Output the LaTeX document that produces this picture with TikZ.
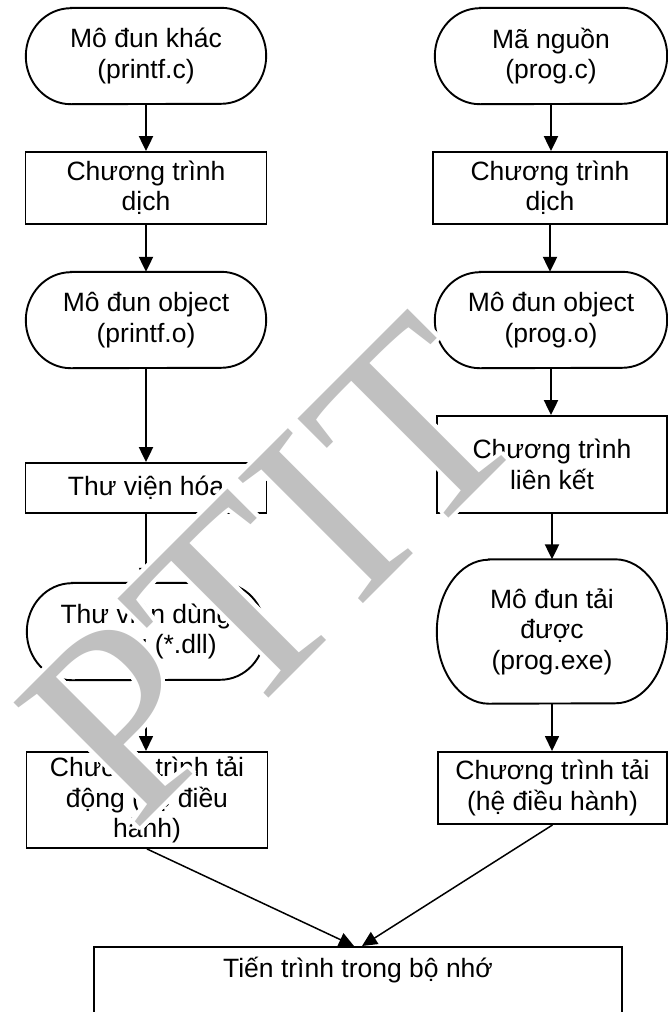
\documentclass[tikz,border=0pt]{standalone}
\usepackage{fontspec}
\setmainfont{Liberation Sans}
\newfontfamily\wmfont{Liberation Serif}
\usetikzlibrary{arrows.meta}
\definecolor{wmgray}{RGB}{192,192,192}
\newcommand\termshape[3]{%
  \draw[line width=1.9pt] ([xshift=#3]#1.north west) -- ([xshift=-#3]#1.north east)
    arc[start angle=90,end angle=-90,x radius=#3,y radius={#2/2}]
    -- ([xshift=#3]#1.south west)
    arc[start angle=270,end angle=90,x radius=#3,y radius={#2/2}] -- cycle;}
\begin{document}
\begin{tikzpicture}[x=1pt,y=1pt,
  txt/.style={font=\fontsize{26.5}{30.5}\selectfont, align=center, inner sep=0pt},
  boxnode/.style={txt, draw, line width=1.9pt, rectangle},
  arr/.style={-{Triangle[length=15pt,width=14pt]}, line width=2.2pt},
  thinarr/.style={-{Triangle[length=15pt,width=14pt]}, line width=1.5pt},
  wmtext/.style={transform shape, anchor=center, inner sep=0pt,
    font=\wmfont\fontsize{270}{270}\selectfont}]
\useasboundingbox (0,0) rectangle (668,-1012);
\clip (0,0) rectangle (668,-1012);
% left column
\node[txt, minimum width=240pt, minimum height=96pt] (l1) at (146,-56) {Mô đun khác\\(printf.c)};
\termshape{l1}{96pt}{45pt}
\node[boxnode, minimum width=241pt, minimum height=72pt] (l2) at (146,-188) {Chương trình\\dịch};
\node[txt, minimum width=240pt, minimum height=96pt] (l3) at (146,-320) {Mô đun object\\(printf.o)};
\termshape{l3}{96pt}{45pt}
\node[boxnode, minimum width=241pt, minimum height=50pt] (l4) at (146,-488) {Thư viện hóa};
\node[txt, minimum width=238pt, minimum height=97pt] (l5) at (146,-631.5) {Thư viện dùng\\chung (*.dll)};
\termshape{l5}{97pt}{45pt}
\node[boxnode, minimum width=241pt, minimum height=96pt] (l6) at (147,-800) {Chương trình tải\\động (hệ điều\\hành)};
% right column
\node[txt, minimum width=232pt, minimum height=96pt] (r1) at (551,-56) {Mã nguồn\\(prog.c)};
\termshape{r1}{96pt}{45pt}
\node[boxnode, minimum width=234pt, minimum height=72pt] (r2) at (550,-188) {Chương trình\\dịch};
\node[txt, minimum width=232pt, minimum height=96pt] (r3) at (551,-320) {Mô đun object\\(prog.o)};
\termshape{r3}{96pt}{45pt}
\node[boxnode, minimum width=230pt, minimum height=97pt] (r4) at (552,-464.5) {Chương trình\\liên kết};
\node[txt, minimum width=230pt, minimum height=144pt] (r5) at (552,-631.5) {Mô đun tải\\được\\(prog.exe)};
\termshape{r5}{144pt}{52pt}
\node[boxnode, minimum width=229pt, minimum height=72pt] (r6) at (552.5,-788) {Chương trình tải\\(hệ điều hành)};
% bottom
\node[boxnode, minimum width=528pt, minimum height=120pt, anchor=north, text depth=80pt] (mem) at (358,-946) {Tiến trình trong bộ nhớ};
% connectors
\draw[arr] (l1.south) -- (l1.south |- l2.north);
\draw[arr] (l2.south) -- (l2.south |- l3.north);
\draw[arr] (l3.south) -- (l3.south |- l4.north);
\draw[thinarr] (l4.south) -- (l4.south |- l5.north);
\draw[thinarr] (l5.south) -- (l5.south |- l6.north);
\draw[arr] (r1.south) -- (r1.south |- r2.north);
\draw[arr] (r2.south) -- (r2.south |- r3.north);
\draw[arr] (r3.south) -- (r3.south |- r4.north);
\draw[arr] (r4.south) -- (r4.south |- r5.north);
\draw[thinarr] (r5.south) -- (r5.south |- r6.north);
\draw[thinarr] (l6.south) -- ([xshift=-4pt]mem.north);
\draw[thinarr] (r6.south) -- ([xshift=4pt]mem.north);
% watermark with white halo
\begin{scope}[shift={(272.5,-569.5)}, rotate=45]
  \foreach \a in {0,22.5,...,337.5}{
    \node[wmtext, text=white] at (\a:4) {PTIT};
  }
  \node[wmtext, text=wmgray] (wm) at (0,0) {PTIT};
\end{scope}
\end{tikzpicture}
\end{document}
